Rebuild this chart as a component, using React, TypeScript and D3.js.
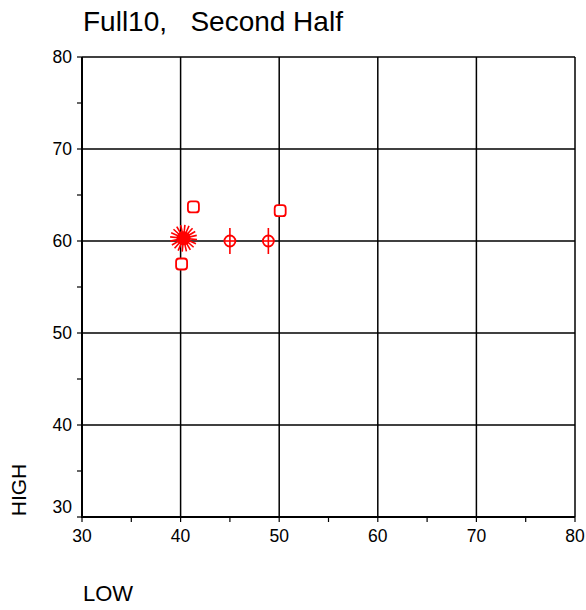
import React from "react";
import * as d3 from "d3";

const lowValues = [40.3, 41.3, 50.1, 40.1, 45.0, 48.9];
const highValues = [60.3, 63.7, 63.3, 57.5, 60.0, 60.0];
const markerTypes = ["burst", "square", "square", "square", "circlebar", "circlebar"];
const majorTicks = [30, 40, 50, 60, 70, 80];
const minorTicks = [35, 45, 55, 65, 75];

const W = 586;
const H = 610;
const left = 82;
const right = 575;
const top = 57;
const bottom = 517;
const RED = "#ff0000";

export default function App() {
  const x = d3.scaleLinear().domain([30, 80]).range([left, right]);
  const y = d3.scaleLinear().domain([30, 80]).range([bottom, top]);
  const font = "Arial, 'Liberation Sans', Helvetica, sans-serif";
  const rays = d3.range(20).map((i) => (i * 2 * Math.PI) / 20 + 0.1);

  return (
    <svg width={W} height={H} style={{ position: "absolute", left: 0, top: 0 }} fontFamily={font}>
      <rect width={W} height={H} fill="#fff" />
      <text x={83} y={31} fontSize={28} style={{ whiteSpace: "pre" }}>
        {"Full10,   Second Half"}
      </text>
      {majorTicks.map((t) => (
        <g key={"g" + t}>
          <line x1={x(t)} x2={x(t)} y1={top} y2={bottom} stroke="#000" strokeWidth={1.5} />
          <line x1={left} x2={right} y1={y(t)} y2={y(t)} stroke="#000" strokeWidth={1.5} />
        </g>
      ))}
      <line x1={left} x2={left} y1={top} y2={bottom + 1} stroke="#000" strokeWidth={2} />
      <line x1={left - 1} x2={right} y1={bottom} y2={bottom} stroke="#000" strokeWidth={2} />
      {majorTicks.concat(minorTicks).map((t) => (
        <g key={"t" + t}>
          <line x1={left - 5} x2={left} y1={y(t)} y2={y(t)} stroke="#000" strokeWidth={1.2} />
          <line x1={x(t)} x2={x(t)} y1={bottom} y2={bottom + 5} stroke="#000" strokeWidth={1.2} />
        </g>
      ))}
      {majorTicks.map((t) => (
        <g key={"l" + t}>
          <text x={left - 10} y={t === 30 ? y(t) - 4 : y(t) + 6} fontSize={17.5} textAnchor="end">
            {t}
          </text>
          <text x={x(t)} y={bottom + 25} fontSize={17.5} textAnchor="middle">
            {t}
          </text>
        </g>
      ))}
      <text transform={`translate(26,490) rotate(-90)`} fontSize={21} textAnchor="middle">
        HIGH
      </text>
      <text x={83} y={601} fontSize={22}>
        LOW
      </text>
      {lowValues.map((lv, i) => {
        const cx = x(lv);
        const cy = y(highValues[i]);
        const t = markerTypes[i];
        if (t === "burst") {
          return (
            <g key={"m" + i}>
              {rays.map((a, k) => (
                <line
                  key={k}
                  x1={cx}
                  y1={cy}
                  x2={cx + 13.5 * Math.cos(a)}
                  y2={cy + 13.5 * Math.sin(a)}
                  stroke={RED}
                  strokeWidth={1.6}
                />
              ))}
              <circle cx={cx} cy={cy} r={7} fill={RED} />
            </g>
          );
        }
        if (t === "square") {
          return (
            <rect
              key={"m" + i}
              x={cx - 5.5}
              y={cy - 5.5}
              width={11}
              height={11}
              rx={3}
              fill="#fff"
              stroke={RED}
              strokeWidth={1.8}
            />
          );
        }
        return (
          <g key={"m" + i}>
            <circle cx={cx} cy={cy} r={5.5} fill="#fff" stroke={RED} strokeWidth={1.8} />
            <line x1={cx - 5.5} x2={cx + 5.5} y1={cy} y2={cy} stroke={RED} strokeWidth={1.6} />
            <line x1={cx} x2={cx} y1={cy - 13} y2={cy + 13} stroke={RED} strokeWidth={1.6} />
          </g>
        );
      })}
    </svg>
  );
}
